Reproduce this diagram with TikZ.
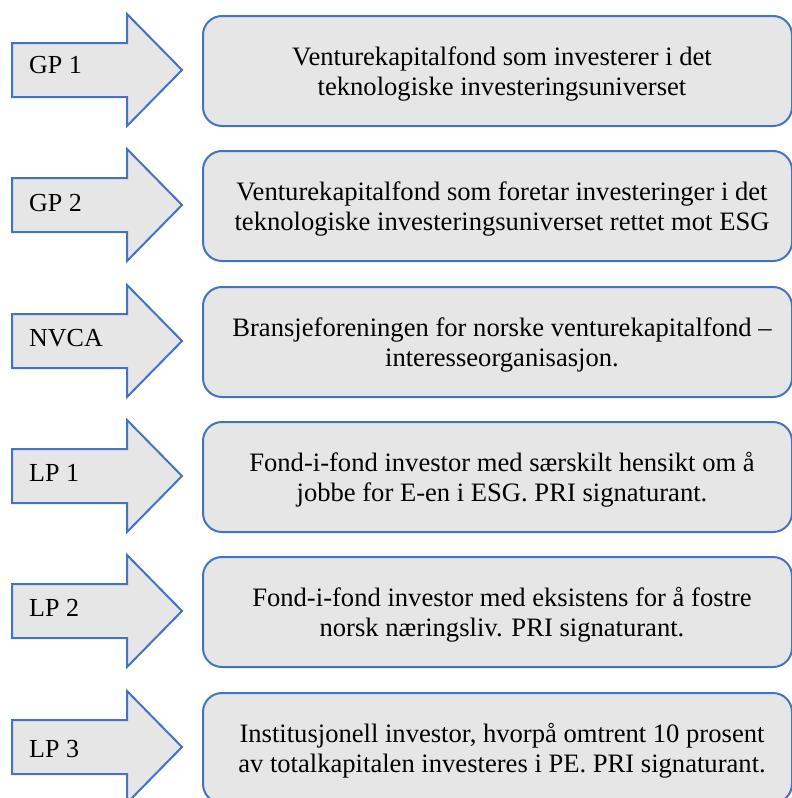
\documentclass[tikz,border=0pt]{standalone}
\usepackage{fontspec}
\setmainfont{Liberation Serif}
\definecolor{edgeblue}{HTML}{4472C4}
\definecolor{panelgray}{HTML}{E6E6E6}

% #1 row name, #2 top edge of the row, #3 label baseline, #4 label, #5 description
\newcommand{\rolerow}[5]{%
  \draw[rolearrow] (12,#2+28) -- (127,#2+28) -- (127,#2-1) -- (182,#2+55)
        -- (127,#2+111) -- (127,#2+82) -- (12,#2+82) -- cycle;
  \node[rolelabel] (#1-label) at (29,#3) {#4};
  \node[infobox] (#1-box) at (202,#2) {};
  \node[infotext] (#1-text) at (502,#2+59) {#5};
}

\begin{document}
\begin{tikzpicture}[x=1pt,y=-1pt,
  rolearrow/.style={draw=edgeblue, fill=panelgray, line width=2pt, line join=miter},
  rolelabel/.style={anchor=base west, inner sep=0pt, font=\fontsize{26}{30}\selectfont},
  infobox/.style={draw=edgeblue, fill=panelgray, line width=2pt, rounded corners=19pt,
    anchor=north west, minimum width=589pt, minimum height=110pt, inner sep=0pt},
  infotext/.style={align=center, inner sep=0pt, font=\fontsize{26.6}{30}\selectfont}]
\useasboundingbox (0,0) rectangle (792,798);
\clip (0,0) rectangle (792,798);

\rolerow{gp1}{15}{73}{GP 1}{Venturekapitalfond som investerer i det\\teknologiske investeringsuniverset}
\rolerow{gp2}{150}{211}{GP 2}{Venturekapitalfond som foretar investeringer i det\\teknologiske investeringsuniverset rettet mot ESG}
\rolerow{nvca}{286}{346}{NVCA}{Bransjeforeningen for norske venturekapitalfond --\\interesseorganisasjon.}
\rolerow{lp1}{421}{481}{LP 1}{Fond-i-fond investor med særskilt hensikt om å\\jobbe for E-en i ESG. PRI signaturant.}
\rolerow{lp2}{556}{616}{LP 2}{Fond-i-fond investor med eksistens for å fostre\\norsk næringsliv. PRI signaturant.}
\rolerow{lp3}{692}{757}{LP 3}{Institusjonell investor, hvorpå omtrent 10 prosent\\av totalkapitalen investeres i PE. PRI signaturant.}
\end{tikzpicture}
\end{document}
